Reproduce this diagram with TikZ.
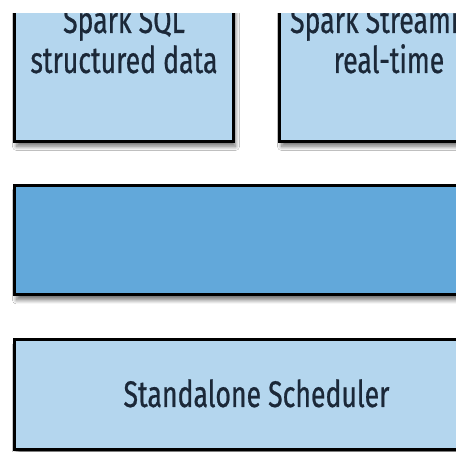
\documentclass[tikz,border=0pt]{standalone}
\usepackage{fontspec}
\setmainfont{Fira Sans}[FakeStretch=0.72, FakeBold=0.6]
\usetikzlibrary{shadows.blur}
\definecolor{lightblue}{HTML}{B4D6EE}
\definecolor{midblue}{HTML}{62A8DA}
\definecolor{navy}{HTML}{1B2838}
\begin{document}
\begin{tikzpicture}[x=1pt,y=1pt,
  layerbox/.style={draw=black, line width=3pt, inner sep=0pt, outer sep=0pt,
    blur shadow={shadow xshift=2pt, shadow yshift=-5pt, shadow blur steps=10, shadow blur radius=4pt, shadow opacity=55}},
  lbl/.style={font=\fontsize{37}{40}\selectfont, text=navy, anchor=base, inner sep=0pt}]
\useasboundingbox (0,0) rectangle (456,452);
\clip (0,0) rectangle (456,452);
\fill[white] (0,0) rectangle (456,452);
\node[layerbox, fill=lightblue, minimum width=219pt, minimum height=161.5pt] (sql) at (124,391.25) {};
\node[layerbox, fill=lightblue, minimum width=219pt, minimum height=161.5pt] (stream) at (389,391.25) {};
\node[layerbox, fill=midblue, minimum width=484pt, minimum height=109.5pt] (core) at (256.5,211.75) {};
\node[layerbox, fill=lightblue, minimum width=484pt, minimum height=110pt] (sched) at (256.5,57) {};
\node[lbl] (sqlA) at (124,419) {Spark SQL};
\node[lbl] (sqlB) at (124,379) {structured data};
\node[lbl] (strA) at (389,419) {Spark Streaming};
\node[lbl] (strB) at (389,379) {real-time};
\node[lbl] (schedT) at (256.5,45) {Standalone Scheduler};
\fill[white] (0,439) rectangle (456,452);
\end{tikzpicture}
\end{document}
